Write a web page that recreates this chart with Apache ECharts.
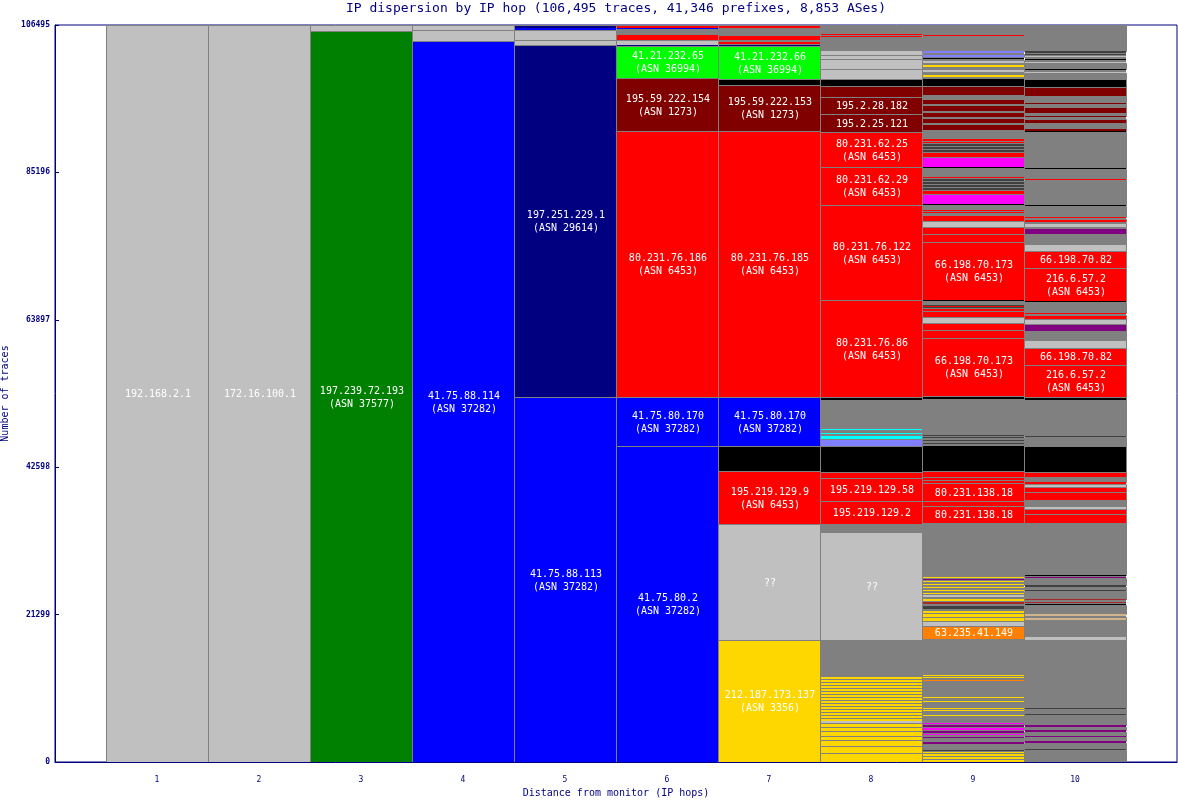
<!DOCTYPE html>
<html><head><meta charset="utf-8">
<script src="https://cdn.jsdelivr.net/npm/echarts@6/dist/echarts.min.js"></script>
<style>html,body{margin:0;padding:0;background:#fff}#c{width:1178px;height:800px}</style>
</head><body><div id="c"></div>
<script>
// ---- data ----
const TOTAL = 106495;
const yTicks = [0, 21299, 42598, 63897, 85196, 106495];
const hops = [1, 2, 3, 4, 5, 6, 7, 8, 9, 10];
const titleText = 'IP dispersion by IP hop (106,495 traces, 41,346 prefixes, 8,853 ASes)';
// Each hop: segments from bottom to top: [traces, colour key, label]
const hop1 = [[106495,'L','192.168.2.1']];
const hop2 = [[106495,'L','172.16.100.1']];
const hop3 = [[105630,'E','197.239.72.193\n(ASN 37577)'],[865,'L']];
const hop4 = [[104185,'B','41.75.88.114\n(ASN 37282)'],[1517,'L'],[793,'L']];
const hop5 = [[52743,'B','41.75.88.113\n(ASN 37282)'],[50864,'N','197.251.229.1\n(ASN 29614)'],[650,'L'],[1517,'L'],[290,'B'],[431,'N']];
const hop6 = [[45662,'B','41.75.80.2\n(ASN 37282)'],[7081,'B','41.75.80.170\n(ASN 37282)'],[38437,'R','80.231.76.186\n(ASN 6453)'],
  [7659,'M','195.59.222.154\n(ASN 1273)'],[4552,'Z','41.21.232.65\n(ASN 36994)'],[217,'N'],[650,'L'],[867,'R'],[723,'G'],[246,'B'],[401,'R']];
const hop7 = [[17629,'Y','212.187.173.137\n(ASN 3356)'],[16762,'L','??'],[7659,'R','195.219.129.9\n(ASN 6453)'],[3613,'K'],
  [7081,'B','41.75.80.170\n(ASN 37282)'],[38437,'R','80.231.76.185\n(ASN 6453)'],[6575,'M','195.59.222.153\n(ASN 1273)'],[939,'K'],
  [4696,'Z','41.21.232.66\n(ASN 36994)'],[173,'N'],[188,'G'],[289,'R'],[217,'G'],[723,'R'],[1084,'G'],[430,'R']];
const hop8 = [[1360,'Y'],[1000,'Y'],[800,'Y'],[620,'Y'],[650,'Y'],[650,'Y'],[600,'Y'],[200,'L'],
  [440,'Y'],[440,'Y'],[440,'Y'],[440,'Y'],[440,'Y'],[440,'Y'],[440,'Y'],[440,'Y'],[440,'Y'],[440,'Y'],[440,'Y'],[440,'Y'],[440,'Y'],[440,'Y'],[440,'Y'],
  [5130,'G'],[15606,'L','??'],[1228,'G'],[3324,'R','195.219.129.2'],[3324,'R','195.219.129.58'],[867,'R'],[3685,'K'],
  [1012,'P'],[578,'C'],[217,'G'],[145,'C'],[390,'G'],[145,'C'],[4177,'G'],[434,'K'],
  [13944,'R','80.231.76.86\n(ASN 6453)'],[13756,'R','80.231.76.122\n(ASN 6453)'],[5491,'R','80.231.62.29\n(ASN 6453)'],[5144,'R','80.231.62.25\n(ASN 6453)'],
  [2558,'M','195.2.25.121'],[2457,'M','195.2.28.182'],[1517,'M'],[1084,'K'],
  [1445,'L'],[1445,'L'],[578,'L'],[289,'L'],[361,'L'],[1879,'G'],[145,'R'],[145,'G'],[145,'R'],[1370,'G']];
const hop9 = [[289,'Y'],[145,'G'],[289,'Y'],[145,'G'],[289,'Y'],[145,'G'],[145,'Y'],
  [173,'G'],[145,'D'],[896,'G'],
  [289,'U'],[506,'G'],[217,'U'],[217,'G'],[145,'V'],[217,'G'],[289,'U'],[145,'G'],[217,'V'],[145,'G'],[289,'U'],[145,'G'],[145,'V'],
  [983,'G'],
  [145,'Y'],[621,'G'],[145,'Y'],[145,'G'],[145,'Y'],[650,'G'],[145,'Y'],[101,'G'],[145,'Y'],[332,'G'],[145,'Y'],
  [2384,'G'],[145,'O'],[246,'G'],[145,'Y'],[217,'G'],[145,'Y'],[5115,'G'],
  [1879,'O','63.235.41.149'],[838,'L'],
  [535,'Y'],[535,'Y'],[390,'Y'],[145,'G'],[578,'D'],[246,'G'],[332,'W'],[434,'Y'],[145,'G'],[347,'L'],[145,'G'],[145,'Y'],[289,'G'],[145,'Y'],
  [260,'G'],[145,'Y'],[260,'G'],[145,'Y'],[289,'G'],[145,'Y'],[202,'G'],[145,'U'],[145,'G'],[145,'Y'],
  [7832,'G'],
  [2428,'R','80.231.138.18'],[347,'R'],[405,'R'],[2630,'R','80.231.138.18'],[332,'R'],[506,'R'],[867,'R'],
  [3685,'K'],[246,'G'],[145,'D'],[246,'G'],[145,'D'],[217,'G'],[145,'D'],[188,'G'],[145,'D'],[5173,'G'],[434,'K'],
  [8381,'R','66.198.70.173\n(ASN 6453)'],[1243,'R'],[968,'R'],[910,'L'],[867,'R'],[318,'R'],[145,'D'],[145,'R'],[145,'D'],[607,'G'],[188,'K'],
  [8338,'R','66.198.70.173\n(ASN 6453)'],[1199,'R'],[1055,'R'],[867,'L'],[824,'R'],[217,'G'],[217,'R'],[145,'G'],[145,'R'],[650,'G'],[145,'K'],
  [1517,'V'],[506,'R'],
  [289,'D'],[145,'G'],[289,'D'],[145,'G'],[289,'D'],[145,'G'],[289,'D'],[145,'G'],[145,'R'],
  [1402,'G'],[145,'K'],[1373,'V'],[723,'R'],
  [289,'D'],[145,'G'],[289,'D'],[145,'G'],[289,'D'],[145,'G'],[145,'R'],[231,'G'],
  [347,'R'],[1199,'G'],
  [867,'M'],[145,'G'],[723,'M'],[188,'G'],[636,'M'],[231,'G'],[824,'M'],[145,'G'],[723,'M'],[506,'G'],[1416,'M'],
  [1113,'K'],
  [188,'G'],[390,'Y'],[246,'G'],[477,'L'],[246,'G'],[477,'Y'],[145,'G'],[477,'L'],[130,'G'],[145,'K'],[159,'G'],[390,'P'],[101,'G'],[376,'P'],
  [2052,'G'],[217,'R'],[1566,'G']];
const hop10 = [[1662,'G'],[145,'D'],[983,'G'],[246,'U'],[535,'G'],[188,'U'],[621,'G'],[246,'U'],[477,'G'],[246,'U'],[1373,'G'],[145,'D'],[795,'G'],[145,'D'],[9826,'G'],
  [578,'L'],[2312,'G'],[390,'T'],[188,'G'],[289,'T'],[1228,'G'],[145,'K'],[217,'G'],[145,'W'],[217,'G'],[145,'W'],[1156,'G'],[145,'D'],[506,'G'],[289,'D'],[968,'G'],[145,'U'],[116,'G'],[145,'K'],[7543,'G'],
  [1300,'R'],[766,'R'],[361,'L'],[939,'G'],[1199,'R'],[723,'R'],[390,'L'],[332,'R'],[723,'G'],[723,'R'],
  [3714,'K'],[1257,'G'],[188,'D'],[5202,'G'],[434,'K'],
  [4624,'R','216.6.57.2\n(ASN 6453)'],[2413,'R','66.198.70.82'],[1199,'L'],[1344,'G'],[968,'U'],[723,'L'],[578,'R'],[145,'G'],[145,'R'],[1546,'G'],[188,'K'],
  [4769,'R','216.6.57.2\n(ASN 6453)'],[2500,'R','66.198.70.82'],[968,'L'],[1445,'G'],[910,'U'],[145,'G'],[578,'L'],[145,'G'],[390,'R'],[173,'G'],[145,'R'],
  [1488,'G'],[145,'K'],[3613,'G'],[145,'R'],[1546,'G'],[145,'K'],[5216,'G'],[145,'K'],
  [434,'M'],[636,'G'],[621,'M'],[260,'G'],[145,'M'],[506,'G'],[780,'M'],[405,'G'],[145,'M'],[1012,'G'],[1416,'M'],
  [1113,'K'],[838,'G'],[145,'L'],[347,'G'],[145,'K'],[809,'G'],[145,'L'],[347,'G'],[145,'K'],[231,'G'],[145,'L'],[173,'G'],[217,'D'],[101,'G'],[217,'D'],[3782,'G']];

// ---- styles ----
const palette = {L:'#c0c0c0', G:'#808080', D:'#404040', K:'#000000', R:'#ff0000', M:'#800000', B:'#0000ff', N:'#000080',
  E:'#008000', Z:'#00ff00', Y:'#ffd700', C:'#00ffff', P:'#8080ff', V:'#ff00ff', U:'#800080', O:'#ff8000', T:'#d2b48c', W:'#a52a2a'};
const INK = '#000080';
const MONO = '"DejaVu Sans Mono", monospace';

const columns = [hop1, hop2, hop3, hop4, hop5, hop6, hop7, hop8, hop9, hop10];
const items = [];
columns.forEach((col, i) => {
  let acc = 0;
  col.forEach(s => { items.push([hops[i], acc, acc + s[0], s[1], s[2] || '']); acc += s[0]; });
});

function renderItem(params, api) {
  const d = items[params.dataIndex];
  const hop = api.value(0), y0 = api.value(1), y1 = api.value(2);
  const a = api.coord([hop - 0.5, y1]);
  const b = api.coord([hop + 0.5, y0]);
  const xl = Math.round(a[0]), xr = Math.round(b[0]);
  const yt = Math.round(a[1]), yb = Math.round(b[1]);
  const h = yb - yt;
  const color = palette[d[3]];
  const children = [];
  if (h >= 3) {
    children.push({type:'rect', shape:{x:xl + 0.5, y:yt + 0.5, width:xr - xl, height:h},
      style:{fill:color, stroke:'#808080', lineWidth:1}, z2:0});
  } else {
    children.push({type:'rect', shape:{x:xl + 1, y:yt, width:xr - xl - 1, height:Math.max(h, 1)},
      style:{fill:color}, z2:1});
  }
  if (d[4]) {
    children.push({type:'text', z2:2, style:{text:d[4], x:(xl + xr) / 2 + 1, y:(yt + yb) / 2 + 1,
      fill:'#ffffff', font:'10px ' + MONO, align:'center', verticalAlign:'middle', lineHeight:13}});
  }
  return {type:'group', children};
}

const chart = echarts.init(document.getElementById('c'), null, {renderer:'canvas'});
chart.setOption({
  animation:false,
  backgroundColor:'#ffffff',
  title:{text:titleText, left:616, top:2, padding:0, textAlign:'center',
    textStyle:{fontFamily:MONO, fontSize:13, fontWeight:'normal', color:INK}},
  grid:{left:55, right:1, top:25, bottom:38, show:true, borderColor:INK, borderWidth:1, backgroundColor:'transparent',
    containLabel:false, outerBoundsMode:'none'},
  xAxis:{type:'value', min:0, max:hops.length + 1, interval:1,
    axisLine:{show:true, lineStyle:{color:INK}}, axisTick:{show:false}, splitLine:{show:false},
    axisLabel:{formatter:v => hops.includes(v) ? String(v) : '', color:INK, fontSize:8, fontFamily:MONO, margin:14},
    name:'Distance from monitor (IP hops)', nameLocation:'middle', nameGap:26,
    nameTextStyle:{fontFamily:MONO, fontSize:10, color:INK}},
  yAxis:{type:'value', min:yTicks[0], max:TOTAL, interval:yTicks[1] - yTicks[0],
    axisLine:{show:true, lineStyle:{color:INK}}, axisTick:{show:true, inside:true, length:4, lineStyle:{color:INK}},
    splitLine:{show:false},
    axisLabel:{formatter:v => String(v), color:INK, fontSize:8, fontWeight:'bold', fontFamily:MONO, margin:5},
    name:'Number of traces', nameLocation:'middle', nameGap:40, nameRotate:90,
    nameTextStyle:{fontFamily:MONO, fontSize:10, color:INK}},
  series:[{type:'custom', renderItem, data:items, encode:{x:0, y:[1, 2]}, clip:true}]
});
</script></body></html>
